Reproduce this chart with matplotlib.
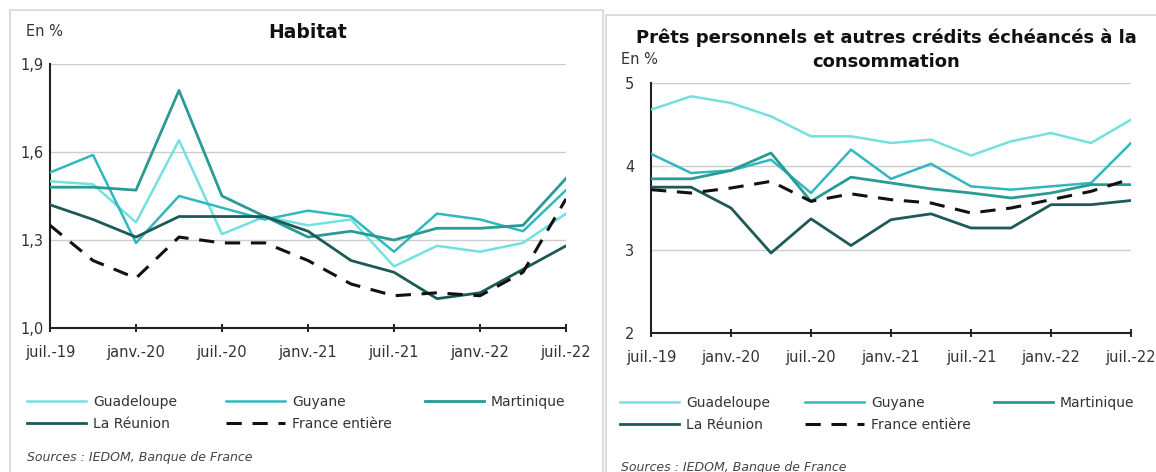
import matplotlib
matplotlib.use("Agg")
import matplotlib.pyplot as plt
from matplotlib.patches import Rectangle

# quarterly points, juil.-19 -> juil.-22
quarters = list(range(13))
tick_pos = [0, 2, 4, 6, 8, 10, 12]
tick_labels = ["juil.-19", "janv.-20", "juil.-20", "janv.-21", "juil.-21", "janv.-22", "juil.-22"]

series_names = ["Guadeloupe", "Guyane", "Martinique", "La Réunion", "France entière"]
colors = ["#74e0e0", "#30b7c0", "#2a9a94", "#1d5a57", "#111111"]

# Habitat (en %)
hab_guadeloupe = [1.50, 1.49, 1.36, 1.64, 1.32, 1.38, 1.35, 1.37, 1.21, 1.28, 1.26, 1.29, 1.39]
hab_guyane     = [1.53, 1.59, 1.29, 1.45, 1.41, 1.37, 1.40, 1.38, 1.26, 1.39, 1.37, 1.33, 1.47]
hab_martinique = [1.48, 1.48, 1.47, 1.81, 1.45, 1.38, 1.31, 1.33, 1.30, 1.34, 1.34, 1.35, 1.51]
hab_reunion    = [1.42, 1.37, 1.31, 1.38, 1.38, 1.38, 1.33, 1.23, 1.19, 1.10, 1.12, 1.20, 1.28]
hab_france     = [1.35, 1.23, 1.17, 1.31, 1.29, 1.29, 1.23, 1.15, 1.11, 1.12, 1.11, 1.19, 1.44]

# Prets personnels et autres credits (en %)
conso_guadeloupe = [4.68, 4.84, 4.76, 4.60, 4.36, 4.36, 4.28, 4.32, 4.13, 4.30, 4.40, 4.28, 4.56]
conso_guyane     = [4.15, 3.92, 3.95, 4.08, 3.68, 4.20, 3.85, 4.03, 3.76, 3.72, 3.76, 3.80, 4.28]
conso_martinique = [3.85, 3.85, 3.95, 4.16, 3.58, 3.87, 3.80, 3.73, 3.68, 3.62, 3.68, 3.78, 3.78]
conso_reunion    = [3.75, 3.75, 3.50, 2.96, 3.37, 3.05, 3.36, 3.43, 3.26, 3.26, 3.54, 3.54, 3.59]
conso_france     = [3.72, 3.68, 3.74, 3.82, 3.58, 3.67, 3.60, 3.56, 3.44, 3.50, 3.60, 3.70, 3.85]

plt.rcParams['font.family'] = ['DejaVu Sans']

fig = plt.figure(figsize=(11.56, 4.72), dpi=100)

# panel frames
fig.patches.append(Rectangle((10/1156, -0.1), 593/1156, 1.1 - 10/472, transform=fig.transFigure,
                             fill=False, edgecolor="#d6d6d6", linewidth=1.2))
fig.patches.append(Rectangle((606/1156, -0.1), 560/1156, 1.1 - 15/472, transform=fig.transFigure,
                             fill=False, edgecolor="#d6d6d6", linewidth=1.2))

ax1 = fig.add_axes([50/1156, 1-328/472, 516/1156, 264/472])
ax2 = fig.add_axes([651/1156, 1-333/472, 480/1156, 250/472])


def draw(ax, data, yticks, ylabels, ypad):
    for i, vals in enumerate(data):
        if i == 4:
            ax.plot(quarters, vals, color=colors[i], lw=2.2, ls=(0, (5, 3.5)), label=series_names[i], zorder=5)
        else:
            lw = 2.0 if i >= 2 else 1.8
            ax.plot(quarters, vals, color=colors[i], lw=lw, label=series_names[i], zorder=3 + i * 0.1)
    ax.set_xlim(0, 12)
    ax.set_ylim(yticks[0], yticks[-1])
    ax.set_yticks(yticks)
    ax.set_yticklabels(ylabels, fontsize=10.5, color="#333333")
    ax.set_xticks(tick_pos)
    ax.set_xticklabels(tick_labels, fontsize=10.5, color="#333333")
    ax.tick_params(axis='y', length=0, pad=ypad)
    ax.tick_params(axis='x', direction='inout', length=6, width=1.2, pad=9)
    ax.grid(axis='y', color="#cccccc", lw=1)
    ax.set_axisbelow(True)
    for s in ['top', 'right']:
        ax.spines[s].set_visible(False)
    for s in ['left', 'bottom']:
        ax.spines[s].set_linewidth(1.5)
        ax.spines[s].set_color("#222222")
    return ax.get_legend_handles_labels()


def legend_cols(handles, labels, xs, ytop):
    # Excel-like legend: fixed-width columns, filled row by row
    cols = [[0, 3], [1, 4], [2]]
    for x, idx in zip(xs, cols):
        leg = fig.legend([handles[k] for k in idx], [labels[k] for k in idx], loc='upper left',
                         bbox_to_anchor=(x/1156, 1-ytop/472), frameon=False, fontsize=10,
                         handlelength=4.25, handletextpad=0.5, labelspacing=0.6,
                         borderaxespad=0, borderpad=0)
        for t in leg.get_texts():
            t.set_color("#333333")


h1, l1 = draw(ax1, [hab_guadeloupe, hab_guyane, hab_martinique, hab_reunion, hab_france],
              [1.0, 1.3, 1.6, 1.9], ["1,0", "1,3", "1,6", "1,9"], 4.5)
h2, l2 = draw(ax2, [conso_guadeloupe, conso_guyane, conso_martinique, conso_reunion, conso_france],
              [2, 3, 4, 5], ["2", "3", "4", "5"], 12)

legend_cols(h1, l1, [27, 226, 425], 395)
legend_cols(h2, l2, [620, 805, 994], 396)

fig.text(308/1156, 1-33/472, "Habitat", ha='center', va='center', fontsize=13.5, fontweight='bold', color="#111111")
fig.text(26/1156, 1-32/472, "En %", ha='left', va='center', fontsize=10.5, color="#333333")
fig.text(886/1156, 1-38/472, "Prêts personnels et autres crédits échéancés à la",
         ha='center', va='center', fontsize=13, fontweight='bold', color="#111111")
fig.text(886/1156, 1-62/472, "consommation",
         ha='center', va='center', fontsize=13, fontweight='bold', color="#111111")
fig.text(621/1156, 1-60/472, "En %", ha='left', va='center', fontsize=10.5, color="#333333")

fig.text(27/1156, 1-458/472, "Sources : IEDOM, Banque de France", ha='left', va='center',
         fontsize=9, style='italic', color="#444444")
fig.text(621/1156, 1-467/472, "Sources : IEDOM, Banque de France", ha='left', va='center',
         fontsize=9, style='italic', color="#444444")

fig.savefig("out.png", dpi=100)
